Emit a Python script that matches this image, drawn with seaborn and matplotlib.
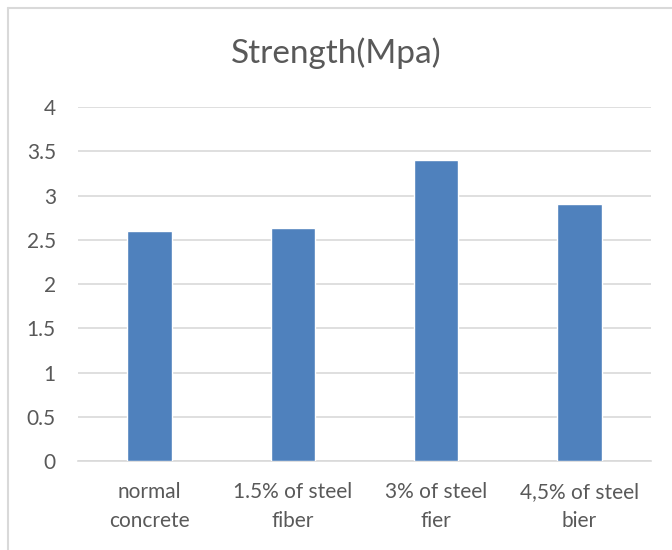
import matplotlib
matplotlib.use("Agg")
import matplotlib.pyplot as plt
import seaborn as sns
import pandas as pd
from matplotlib.lines import Line2D

categories = ["normal\nconcrete", "1.5% of steel\nfiber", "3% of steel\nfier", "4,5% of steel\nbier"]
strength = [2.6, 2.63, 3.4, 2.9]
y_ticks = [0, 0.5, 1, 1.5, 2, 2.5, 3, 3.5, 4]
y_tick_labels = ["0", "0.5", "1", "1.5", "2", "2.5", "3", "3.5", "4"]
title = "Strength(Mpa)"

sns.set_theme(style="white")
plt.rcParams["font.family"] = ["Lato", "DejaVu Sans"]

df = pd.DataFrame({"category": categories, "strength": strength})

fig = plt.figure(figsize=(6.72, 5.5), dpi=100)
ax = fig.add_axes([0.1161, 0.1618, 0.8527, 0.6436])

sns.barplot(data=df, x="category", y="strength", color="#4f81bd",
            saturation=1, width=0.31, ax=ax, zorder=3)

ax.set_ylim(0, 4)
ax.set_yticks(y_ticks)
ax.set_yticklabels(y_tick_labels)
ax.set_xlim(-0.5, len(categories) - 0.5)
ax.grid(axis="y", color="#d9d9d9", linewidth=1.2, zorder=0)
ax.set_axisbelow(True)
for s in ["top", "right", "left"]:
    ax.spines[s].set_visible(False)
ax.spines["bottom"].set_color("#d9d9d9")
ax.spines["bottom"].set_linewidth(1.2)
ax.set_xlabel("")
ax.set_ylabel("")
ax.tick_params(axis="y", length=0, pad=16, labelsize=15, labelcolor="#595959")
ax.tick_params(axis="x", length=0, pad=15, labelsize=15, labelcolor="#595959")
for lbl in ax.get_xticklabels():
    lbl.set_linespacing(1.6)

fig.text(0.5, 0.903, title, ha="center", va="center", fontsize=24, color="#595959")

# chart border (left and top visible)
fig.add_artist(Line2D([8/672, 8/672], [0, 1 - 8/550], transform=fig.transFigure, color="#d9d9d9", linewidth=1.5))
fig.add_artist(Line2D([8/672, 1], [1 - 8/550, 1 - 8/550], transform=fig.transFigure, color="#d9d9d9", linewidth=1.5))

fig.savefig("out.png", dpi=100, facecolor="white")
